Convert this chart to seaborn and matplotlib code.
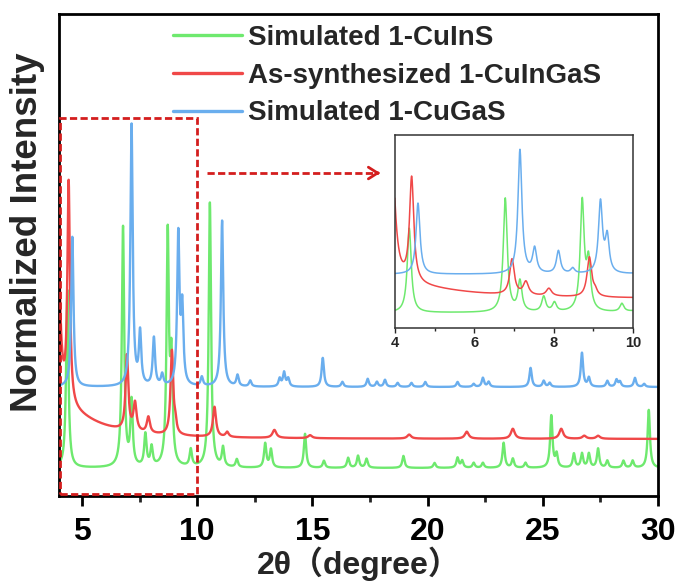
import numpy as np
import pandas as pd
import matplotlib
matplotlib.use("Agg")
import matplotlib.pyplot as plt
from matplotlib.patches import Rectangle
from matplotlib.lines import Line2D
from matplotlib.ticker import MultipleLocator
import seaborn as sns

# ---- data -------------------------------------------------------------
labels = ["Simulated 1-CuInS", "As-synthesized 1-CuInGaS", "Simulated 1-CuGaS"]
colors = ["#6EE96E", "#F04848", "#6AAEEE"]

# reflection positions (2theta, deg) and heights for each pattern
cuins_pos = [4.36, 6.78, 7.15, 7.75, 8.02, 8.72, 8.88, 9.72, 10.55, 11.12,
             11.72, 12.95, 13.2, 14.68, 15.5, 16.55, 16.98, 17.35, 18.95,
             20.3, 21.3, 21.5, 22.0, 22.4, 23.3, 23.7, 24.25, 25.37, 25.6,
             26.35, 26.7, 27.0, 27.4, 27.8, 28.5, 28.9, 29.6]
cuins_h = [178, 240, 64, 32, 19, 230, 100, 17, 265, 19,
           8, 24, 18, 34, 7, 10, 12, 9, 12,
           5, 10, 7, 5, 5, 25, 9, 5, 52, 13,
           14, 14, 14, 19, 7, 7, 7, 58]
cuins_offset = 28

cuingas_pos = [3.92, 4.42, 6.95, 7.3, 7.88, 8.9, 9.05, 10.75, 11.3, 13.35,
               14.9, 19.2, 21.7, 23.7, 25.8, 26.8, 27.4]
cuingas_h = [280, 220, 75, 28, 16, 84, 10, 30, 5, 8,
             3, 4, 7, 10, 10, 3, 3]
cuingas_w = [0.1, 0.065, 0.07, 0.08, 0.08, 0.07, 0.06, 0.08, 0.08, 0.1,
             0.1, 0.1, 0.1, 0.1, 0.1, 0.1, 0.1]
# broad low-angle scattering background of the measured pattern
cuingas_bg_pos, cuingas_bg_h, cuingas_bg_w = 4.0, 30, 1.76
cuingas_offset = 57

cugas_pos = [4.58, 7.15, 7.52, 8.12, 8.48, 9.18, 9.35, 10.2, 11.08, 11.75,
             12.3, 13.58, 13.77, 13.95, 15.45, 16.3, 17.4, 17.8, 18.15,
             18.7, 19.3, 19.9, 21.3, 22.0, 22.4, 22.65, 24.47, 25.04, 25.3,
             26.7, 27.0, 27.8, 28.2, 28.35, 29.0, 29.4]
cugas_h = [150, 262, 52, 48, 11, 150, 75, 9, 166, 11,
           6, 8, 14, 8, 29, 5, 8, 5, 7,
           4, 4, 5, 5, 3, 9, 5, 19, 6, 4,
           34, 9, 6, 7, 5, 9, 3]
cugas_offset = 109

sim_hwhm = 0.06

two_theta = np.arange(3.5, 30.5, 0.004)


def lorentz_sum(pos, height, width, offset):
    y = np.full_like(two_theta, float(offset))
    for p, h, w in zip(pos, height, width):
        y += h * w ** 2 / ((two_theta - p) ** 2 + w ** 2)
    return y


y_cuins = lorentz_sum(cuins_pos, cuins_h, [sim_hwhm] * len(cuins_pos), cuins_offset)
y_cuingas = lorentz_sum(cuingas_pos + [cuingas_bg_pos], cuingas_h + [cuingas_bg_h],
                        cuingas_w + [cuingas_bg_w], cuingas_offset)
y_cugas = lorentz_sum(cugas_pos, cugas_h, [sim_hwhm] * len(cugas_pos), cugas_offset)

df = pd.concat([
    pd.DataFrame({"two_theta": two_theta, "intensity": y, "phase": lab})
    for y, lab in zip([y_cuins, y_cuingas, y_cugas], labels)
])

# ---- style ------------------------------------------------------------
sns.set_theme(style="ticks")
plt.rcParams["font.family"] = ["Liberation Sans", "Noto Sans CJK SC", "DejaVu Sans"]
plt.rcParams["font.weight"] = "bold"
plt.rcParams["axes.labelweight"] = "bold"

fig = plt.figure(figsize=(6.81, 5.87), dpi=100)
ax = fig.add_axes([0.0866, 0.155, 0.8796, 0.8211])

palette = dict(zip(labels, colors))
sns.lineplot(data=df, x="two_theta", y="intensity", hue="phase", hue_order=labels,
             palette=palette, estimator=None, sort=False, linewidth=1.7,
             legend=False, ax=ax)

ax.set_xlim(4, 30)
ax.set_ylim(0, 482)
ax.set_xticks([5, 10, 15, 20, 25, 30])
ax.xaxis.set_minor_locator(MultipleLocator(2.5))
ax.set_yticks([])
ax.tick_params(axis="x", which="major", length=7, width=2, direction="out",
               labelsize=23, pad=8, colors="black")
ax.tick_params(axis="x", which="minor", length=4, width=2, direction="out")
for s in ax.spines.values():
    s.set_linewidth(2)
    s.set_color("black")

ax.set_xlabel("2θ（degree）", fontsize=23, fontweight="bold", labelpad=0)
ax.set_ylabel("Normalized Intensity", fontsize=26.5, fontweight="bold")
ax.yaxis.set_label_coords(-0.023, 0.548)

red_dash = "#D41E1E"
ax.add_patch(Rectangle((4.04, 2), 5.96, 376, fill=False, edgecolor=red_dash,
                       linewidth=2, linestyle=(0, (2.6, 1.2)), clip_on=False, zorder=5))
ax.plot([10.42, 17.85], [323, 323], color=red_dash, linewidth=2,
        linestyle=(0, (2.6, 1.2)))
ax.annotate("", xy=(18.06, 323), xytext=(17.7, 323),
            arrowprops=dict(arrowstyle="->,head_length=0.55,head_width=0.35",
                            color=red_dash, linewidth=2))

handles = [Line2D([], [], color=c, linewidth=2.4) for c in colors]
ax.legend(handles, labels, loc="upper left", bbox_to_anchor=(0.19, 0.977),
          frameon=False, prop={"weight": "bold", "size": 20}, handlelength=2.5,
          handletextpad=0.22, labelspacing=0.42, borderaxespad=0, borderpad=0)

# ---- inset: 4-10 deg ----------------------------------------------------
axins = fig.add_axes([0.580, 0.441, 0.3495, 0.3288])
sns.lineplot(data=df, x="two_theta", y="intensity", hue="phase", hue_order=labels,
             palette=palette, estimator=None, sort=False, linewidth=1.1,
             legend=False, ax=axins)
axins.set_xlim(4, 10)
axins.set_ylim(-4.6, 402.6)
axins.set_xticks([4, 6, 8, 10])
axins.xaxis.set_minor_locator(MultipleLocator(1))
axins.set_yticks([])
axins.set_xlabel("")
axins.set_ylabel("")
axins.tick_params(axis="x", which="major", length=3.5, width=1, labelsize=10.5, pad=2)
axins.tick_params(axis="x", which="minor", length=2, width=1)
for s in axins.spines.values():
    s.set_linewidth(1.1)
    s.set_color("#333333")

fig.savefig("out.png", dpi=100)
